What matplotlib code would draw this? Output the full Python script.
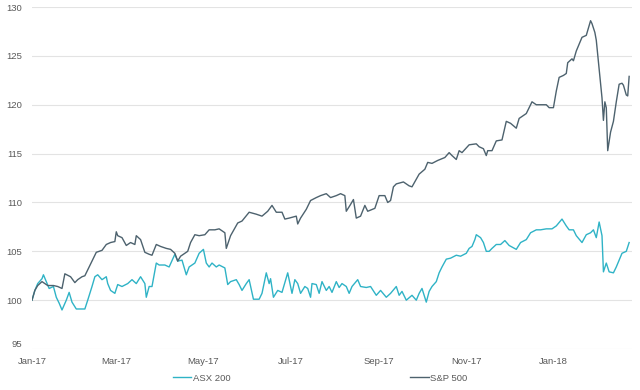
import pandas as pd
import matplotlib
matplotlib.use('Agg')
import matplotlib.pyplot as plt
import matplotlib.dates as mdates

plt.rcParams['font.family'] = ['Liberation Sans', 'DejaVu Sans']

# S&P 500 (rebased to 100)
spx_dates = ['2017-01-01', '2017-01-03', '2017-01-05', '2017-01-08', '2017-01-10', '2017-01-12',
             '2017-01-16', '2017-01-19', '2017-01-22', '2017-01-24', '2017-01-28', '2017-01-31',
             '2017-02-02', '2017-02-05', '2017-02-07', '2017-02-10', '2017-02-12', '2017-02-15',
             '2017-02-17', '2017-02-19', '2017-02-22', '2017-02-25', '2017-02-28', '2017-03-01',
             '2017-03-02', '2017-03-05', '2017-03-08', '2017-03-11', '2017-03-14', '2017-03-15',
             '2017-03-18', '2017-03-21', '2017-03-24', '2017-03-26', '2017-03-29', '2017-04-01',
             '2017-04-05', '2017-04-08', '2017-04-11', '2017-04-13', '2017-04-15', '2017-04-18',
             '2017-04-20', '2017-04-22', '2017-04-25', '2017-04-28', '2017-05-02', '2017-05-05',
             '2017-05-09', '2017-05-12', '2017-05-16', '2017-05-17', '2017-05-20', '2017-05-25',
             '2017-05-28', '2017-06-02', '2017-06-07', '2017-06-11', '2017-06-15', '2017-06-18',
             '2017-06-21', '2017-06-25', '2017-06-27', '2017-06-30', '2017-07-05', '2017-07-06',
             '2017-07-08', '2017-07-12', '2017-07-15', '2017-07-19', '2017-07-22', '2017-07-26',
             '2017-07-29', '2017-08-02', '2017-08-05', '2017-08-08', '2017-08-09', '2017-08-12',
             '2017-08-14', '2017-08-16', '2017-08-19', '2017-08-22', '2017-08-24', '2017-08-29',
             '2017-09-01', '2017-09-05', '2017-09-07', '2017-09-09', '2017-09-11', '2017-09-13',
             '2017-09-18', '2017-09-22', '2017-09-24', '2017-09-29', '2017-10-03', '2017-10-05',
             '2017-10-08', '2017-10-12', '2017-10-17', '2017-10-20', '2017-10-22', '2017-10-25',
             '2017-10-27', '2017-10-29', '2017-11-03', '2017-11-08', '2017-11-10', '2017-11-13',
             '2017-11-15', '2017-11-16', '2017-11-19', '2017-11-22', '2017-11-26', '2017-11-29',
             '2017-12-02', '2017-12-06', '2017-12-08', '2017-12-13', '2017-12-15', '2017-12-17',
             '2017-12-20', '2017-12-24', '2017-12-27', '2017-12-29', '2018-01-01', '2018-01-03',
             '2018-01-05', '2018-01-08', '2018-01-10', '2018-01-11', '2018-01-14', '2018-01-15',
             '2018-01-17', '2018-01-19', '2018-01-21', '2018-01-24', '2018-01-25', '2018-01-27',
             '2018-01-28', '2018-01-30', '2018-01-31', '2018-02-02', '2018-02-04', '2018-02-05',
             '2018-02-06', '2018-02-07', '2018-02-08', '2018-02-10', '2018-02-12', '2018-02-14',
             '2018-02-16', '2018-02-18', '2018-02-19', '2018-02-21', '2018-02-22', '2018-02-23']
spx_values = [100, 101, 101.5, 101.9, 101.7, 101.5,
              101.5, 101.4, 101.2, 102.7, 102.4, 101.8,
              102.1, 102.4, 102.5, 103.4, 104, 104.9,
              105, 105.1, 105.7, 105.9, 106, 107,
              106.6, 106.4, 105.6, 105.9, 105.7, 106.6,
              106.2, 104.9, 104.7, 104.6, 105.7, 105.5,
              105.3, 105.2, 104.8, 104, 104.5, 104.8,
              105, 105.9, 106.7, 106.6, 106.7, 107.2,
              107.2, 107.3, 106.9, 105.3, 106.6, 107.9,
              108.1, 109, 108.8, 108.6, 109.1, 109.7,
              109, 109, 108.3, 108.4, 108.6, 107.8,
              108.4, 109.3, 110.2, 110.5, 110.7, 110.9,
              110.5, 110.7, 110.9, 110.7, 109.1, 109.8,
              110.3, 108.4, 108.6, 109.7, 109.1, 109.4,
              110.7, 110.7, 110, 110.2, 111.6, 111.9,
              112.1, 111.7, 111.6, 112.9, 113.4, 114.1,
              114, 114.3, 114.6, 115.1, 114.8, 114.4,
              115.3, 115.1, 115.9, 116, 115.7, 115.5,
              114.8, 115.3, 115.3, 116.3, 116.4, 118.3,
              118.1, 117.6, 118.6, 119.1, 119.7, 120.3,
              120, 120, 120, 119.7, 119.7, 121.4,
              122.8, 123, 123.2, 124.3, 124.7, 124.5,
              125.5, 126.2, 126.9, 127.1, 127.6, 128.6,
              128.3, 127.4, 126.6, 123.6, 120.7, 118.4,
              120.3, 119.7, 115.3, 117.2, 118.3, 120.3,
              122.1, 122.2, 122, 121, 120.9, 122.9]

# ASX 200 (rebased to 100)
asx_dates = ['2017-01-01', '2017-01-03', '2017-01-05', '2017-01-08', '2017-01-09', '2017-01-11',
             '2017-01-13', '2017-01-16', '2017-01-18', '2017-01-20', '2017-01-22', '2017-01-25',
             '2017-01-27', '2017-01-29', '2017-02-01', '2017-02-03', '2017-02-07', '2017-02-09',
             '2017-02-12', '2017-02-14', '2017-02-16', '2017-02-19', '2017-02-22', '2017-02-23',
             '2017-02-25', '2017-02-28', '2017-03-02', '2017-03-05', '2017-03-09', '2017-03-12',
             '2017-03-15', '2017-03-18', '2017-03-21', '2017-03-22', '2017-03-24', '2017-03-26',
             '2017-03-29', '2017-03-31', '2017-04-04', '2017-04-07', '2017-04-11', '2017-04-13',
             '2017-04-16', '2017-04-19', '2017-04-21', '2017-04-25', '2017-04-28', '2017-05-01',
             '2017-05-03', '2017-05-05', '2017-05-07', '2017-05-10', '2017-05-12', '2017-05-16',
             '2017-05-18', '2017-05-20', '2017-05-24', '2017-05-26', '2017-05-28', '2017-05-31',
             '2017-06-02', '2017-06-05', '2017-06-09', '2017-06-11', '2017-06-14', '2017-06-16',
             '2017-06-17', '2017-06-19', '2017-06-22', '2017-06-25', '2017-06-29', '2017-07-02',
             '2017-07-04', '2017-07-06', '2017-07-08', '2017-07-11', '2017-07-13', '2017-07-15',
             '2017-07-16', '2017-07-19', '2017-07-21', '2017-07-23', '2017-07-26', '2017-07-28',
             '2017-07-30', '2017-08-02', '2017-08-04', '2017-08-06', '2017-08-09', '2017-08-11',
             '2017-08-13', '2017-08-17', '2017-08-19', '2017-08-23', '2017-08-26', '2017-08-30',
             '2017-09-02', '2017-09-06', '2017-09-09', '2017-09-13', '2017-09-15', '2017-09-17',
             '2017-09-20', '2017-09-24', '2017-09-27', '2017-09-29', '2017-10-01', '2017-10-04',
             '2017-10-06', '2017-10-08', '2017-10-11', '2017-10-13', '2017-10-15', '2017-10-18',
             '2017-10-21', '2017-10-25', '2017-10-28', '2017-11-01', '2017-11-03', '2017-11-05',
             '2017-11-07', '2017-11-08', '2017-11-11', '2017-11-13', '2017-11-15', '2017-11-17',
             '2017-11-19', '2017-11-22', '2017-11-25', '2017-11-28', '2017-12-01', '2017-12-06',
             '2017-12-09', '2017-12-13', '2017-12-16', '2017-12-20', '2017-12-23', '2017-12-27',
             '2017-12-31', '2018-01-03', '2018-01-07', '2018-01-10', '2018-01-12', '2018-01-15',
             '2018-01-17', '2018-01-21', '2018-01-24', '2018-01-27', '2018-01-29', '2018-01-31',
             '2018-02-02', '2018-02-04', '2018-02-05', '2018-02-07', '2018-02-09', '2018-02-12',
             '2018-02-14', '2018-02-18', '2018-02-21', '2018-02-23']
asx_values = [100, 101, 101.7, 102.2, 102.6, 101.9,
              101.2, 101.4, 100.3, 99.7, 99, 100,
              100.8, 99.8, 99.1, 99.1, 99.1, 100,
              101.4, 102.4, 102.6, 102.1, 102.4, 101.7,
              101, 100.7, 101.6, 101.4, 101.7, 102.1,
              101.7, 102.4, 101.7, 100.3, 101.4, 101.4,
              103.8, 103.6, 103.6, 103.4, 104.7, 104,
              104.1, 102.6, 103.4, 103.8, 104.8, 105.2,
              103.8, 103.4, 103.8, 103.4, 103.6, 103.3,
              101.6, 101.9, 102.1, 101.6, 101, 101.7,
              102.1, 100.1, 100.1, 100.7, 102.8, 101.7,
              102.2, 100.3, 101, 100.8, 102.8, 100.7,
              102.1, 101.7, 100.7, 101.4, 101.2, 100.3,
              101.7, 101.6, 100.7, 101.9, 101, 101.4,
              100.8, 101.9, 101.3, 101.7, 101.4, 100.7,
              101.4, 102.1, 101.4, 101.3, 101.4, 100.5,
              101, 100.3, 100.7, 101.4, 100.5, 100.9,
              100, 100.5, 100, 100.7, 101.2, 99.8,
              100.9, 101.4, 101.9, 102.8, 103.4, 104.2,
              104.3, 104.6, 104.5, 104.8, 105.3, 105.5,
              106.2, 106.7, 106.4, 105.9, 105, 105,
              105.3, 105.7, 105.7, 106.1, 105.6, 105.2,
              105.9, 106.2, 106.9, 107.2, 107.2, 107.3,
              107.3, 107.6, 108.3, 107.6, 107.2, 107.2,
              106.6, 105.9, 106.7, 106.9, 107.2, 106.4,
              108, 106.6, 102.9, 103.8, 102.9, 102.8,
              103.4, 104.8, 105, 105.9]

y_ticks = [95, 100, 105, 110, 115, 120, 125, 130]
x_ticks = ['2017-01-01', '2017-03-01', '2017-05-01', '2017-07-01',
           '2017-09-01', '2017-11-01', '2018-01-01']

asx_color = '#2fb3c6'
spx_color = '#4d626e'
text_color = '#595959'

fig = plt.figure(figsize=(6.4, 3.9), dpi=100)
ax = fig.add_axes([0.05, 0.105, 0.9375, 0.877])

ax.plot(pd.to_datetime(asx_dates), asx_values, color=asx_color, lw=1.0, label='ASX 200')
ax.plot(pd.to_datetime(spx_dates), spx_values, color=spx_color, lw=1.0, label='S&P 500')

ax.set_ylim(95, 130)
ax.set_yticks(y_ticks)
ax.set_xlim(pd.Timestamp('2017-01-01'), pd.Timestamp('2018-02-25'))
ax.set_xticks(pd.to_datetime(x_ticks))
ax.xaxis.set_major_formatter(mdates.DateFormatter('%b-%y'))

ax.grid(axis='y', color='#e3e3e3', lw=0.8)
ax.set_axisbelow(True)
for s in ax.spines.values():
    s.set_visible(False)
ax.tick_params(length=0, labelsize=6.8, labelcolor=text_color)
ax.tick_params(axis='y', pad=7)
ax.tick_params(axis='x', pad=6)
# nudge the bottom y label up so it clears the Jan-17 date label
ax.get_yticklabels()[0].set_verticalalignment('bottom')

fig.legend(loc='center', bbox_to_anchor=(0.5, 0.03), ncol=2, frameon=False,
           fontsize=6.8, labelcolor=text_color, handlelength=2.0, handletextpad=0.15,
           columnspacing=19)

fig.savefig('out.png', dpi=100)
